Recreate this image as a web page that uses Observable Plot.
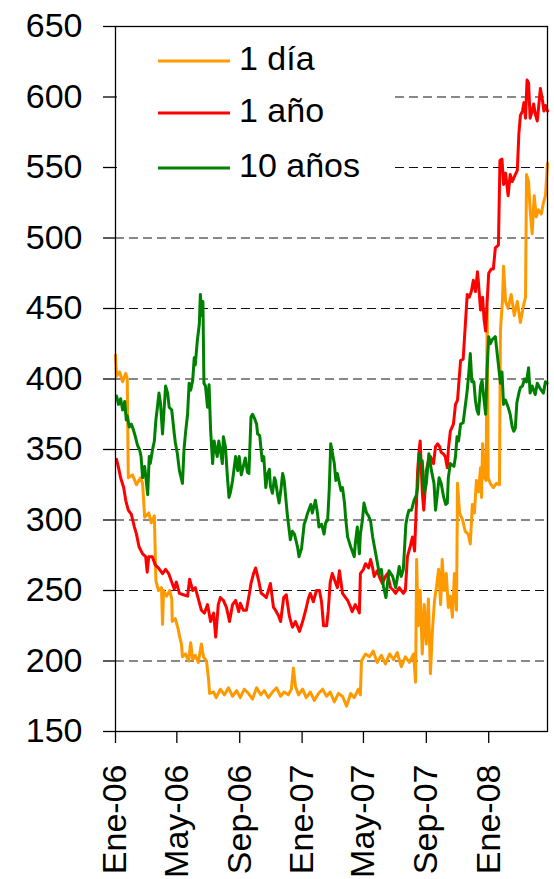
<!DOCTYPE html>
<html><head><meta charset="utf-8">
<script src="https://cdn.jsdelivr.net/npm/d3@7"></script>
<script src="https://cdn.jsdelivr.net/npm/@observablehq/plot@0.6"></script>
<style>
body{margin:0;background:#fff;}
#wrap{position:relative;width:554px;height:879px;font-family:"Liberation Sans",Arial,sans-serif;}
#legend{position:absolute;left:0;top:0;}
</style></head><body><div id="wrap"></div>
<script>
// Series names & colours
const seriesNames = ["1 día", "1 año", "10 años"];
const seriesColors = ["#FF9900", "#FF0000", "#008000"];

// Days since 2006-01-01 and values
const diaDays = [0,2,8,14,20,23,25,33,41,49,53,57,65,70,76,79,84,90,92,94,100,106,110,111,117,123,125,129,131,137,143,147,151,156,162,168,172,178,182,184,192,197,205,213,221,229,237,244,252,260,268,276,284,291,299,307,315,323,330,338,344,348,352,358,366,373,381,389,397,405,413,420,428,436,444,452,460,467,475,479,481,489,497,504,512,520,528,536,544,551,559,567,575,583,587,589,592,596,600,604,608,612,616,620,624,628,632,636,639,643,647,651,655,659,663,667,669,673,679,684,690,694,698,702,706,710,714,716,718,722,725,727,729,733,739,745,751,753,757,759,763,768,774,780,786,792,798,802,804,808,811,815,819,823,827,833,837,841,845];
const diaValues = [417,402,405,398,404,400,330,332,325,330,326,302,305,298,303,257,250,252,226,250,246,250,244,228,230,222,218,212,203,205,200,213,201,204,199,212,203,200,187,177,178,174,180,176,181,175,179,174,180,177,173,181,176,179,174,178,181,175,178,176,180,195,182,176,180,174,178,172,177,180,175,178,171,177,175,168,177,174,180,176,200,205,203,207,199,204,198,205,201,206,196,203,199,205,185,272,225,250,205,240,212,244,191,222,243,253,265,240,272,250,262,238,246,231,262,236,326,305,300,292,290,283,311,305,328,320,337,316,354,330,328,450,330,326,323,326,325,435,456,480,455,450,460,445,455,440,452,458,545,540,520,503,530,515,520,517,525,530,553];

const anoDays = [2,6,10,16,20,25,31,37,41,46,53,59,62,65,72,78,84,92,98,104,111,115,119,125,133,141,145,151,156,162,168,174,180,186,192,196,201,205,211,217,223,229,235,241,244,250,256,262,265,270,274,280,285,289,295,303,309,313,319,323,329,334,340,346,352,360,366,372,377,381,387,393,399,403,407,413,416,420,424,428,434,438,444,450,454,460,463,469,475,477,479,485,489,495,499,503,506,512,518,522,528,532,538,544,548,555,563,567,571,577,581,585,589,591,594,596,600,603,608,612,616,622,626,630,634,637,641,645,649,651,655,661,665,669,672,675,680,684,688,692,696,700,704,708,710,714,718,721,724,727,730,735,739,743,749,752,756,759,763,768,772,776,782,786,789,792,796,799,802,805,808,811,815,818,821,825,829,831,835,838,841,845];
const anoValues = [343,337,330,323,314,307,304,295,290,281,276,274,263,274,274,268,266,262,265,262,255,251,256,248,247,246,258,250,252,244,236,234,240,228,234,217,240,245,243,238,228,240,243,235,241,236,236,248,255,262,266,257,248,247,245,255,238,236,232,228,245,247,232,224,228,221,228,236,244,248,242,250,250,242,225,225,235,256,262,258,252,264,248,245,243,238,235,240,236,234,262,265,269,266,272,266,260,264,258,255,260,262,252,250,248,252,248,250,274,282,288,278,315,335,350,356,320,307,335,342,345,340,352,354,352,348,347,345,337,350,363,368,382,385,399,413,414,437,460,458,462,470,462,476,468,449,458,442,434,455,475,478,478,493,495,555,556,538,546,530,545,540,545,548,574,587,590,596,585,612,610,585,590,595,588,583,598,606,598,590,594,590];

const diezDays = [2,6,10,14,18,21,23,27,31,35,39,43,47,50,53,57,61,63,66,68,72,76,79,82,85,88,92,95,98,102,105,110,115,117,121,125,127,131,134,137,141,144,147,151,154,156,160,164,166,169,171,173,176,180,183,186,190,193,196,199,202,205,209,211,215,219,222,225,229,235,239,242,246,250,254,258,261,265,268,272,276,278,282,287,290,294,297,301,303,307,311,313,317,320,323,327,330,336,342,346,350,356,359,364,369,372,375,382,385,391,395,398,403,408,411,415,418,421,424,428,431,434,441,444,448,450,454,460,463,467,469,473,477,479,483,486,491,495,499,503,509,512,516,520,524,529,532,535,542,548,555,559,563,568,571,574,579,584,589,591,594,596,600,604,608,613,618,623,626,630,633,637,642,646,649,651,655,662,665,668,671,675,680,688,691,694,697,701,704,707,710,714,717,720,724,727,730,733,737,743,746,749,753,756,759,763,768,772,776,779,782,785,789,792,796,800,804,808,811,815,821,825,831,837,841,844];
const diezValues = [388,382,386,378,384,371,374,366,368,364,359,353,350,345,330,338,325,318,345,340,349,356,371,380,390,383,361,378,395,390,380,378,361,355,347,335,332,326,350,362,375,397,392,399,415,410,427,439,460,445,455,397,395,380,396,364,340,356,350,345,356,350,340,359,352,330,316,320,328,345,335,345,332,338,344,334,333,373,375,372,368,361,360,342,345,323,332,336,324,319,330,328,318,312,320,333,328,304,286,292,290,281,274,280,297,300,304,311,305,314,305,295,297,290,298,300,321,354,348,340,328,333,321,323,312,302,288,281,278,274,283,295,276,290,300,312,305,303,299,288,276,270,262,265,253,245,255,264,260,252,267,260,265,297,303,307,307,314,318,323,347,342,342,319,326,347,335,326,307,320,330,326,316,311,312,330,340,338,345,359,356,368,369,392,404,418,398,398,385,378,375,395,399,388,375,408,430,425,428,430,420,410,397,405,382,385,380,375,366,363,365,383,390,394,395,400,398,408,390,395,389,397,393,390,398,397];

// Axis ticks
const yTicks = [150,200,250,300,350,400,450,500,550,600,650];
const gridValues = [200,250,300,350,400,450,500,550,600];
const xTickDates = ["2006-01-01","2006-05-01","2006-09-01","2007-01-01","2007-05-01","2007-09-01","2008-01-01"];
const xTickLabels = ["Ene-06","May-06","Sep-06","Ene-07","May-07","Sep-07","Ene-08"];
const lastDay = 845;

const start = Date.UTC(2006,0,1);
const toDate = d => new Date(start + d*864e5);
const series = [
  {name: seriesNames[0], days: diaDays, values: diaValues},
  {name: seriesNames[1], days: anoDays, values: anoValues},
  {name: seriesNames[2], days: diezDays, values: diezValues}
];
const rows = [];
series.forEach(s => s.days.forEach((d,i) => rows.push({date: toDate(d), value: s.values[i], serie: s.name})));

const tickDates = xTickDates.map(s => new Date(s + "T00:00:00Z"));
const labelMap = new Map(tickDates.map((d,i) => [+d, xTickLabels[i]]));

const chart = Plot.plot({
  width: 554, height: 879,
  marginLeft: 115, marginRight: 7, marginTop: 26, marginBottom: 148,
  style: {fontFamily: '"Liberation Sans", Arial, sans-serif', background: "#fff", color: "#000", overflow: "visible"},
  x: {type: "utc", domain: [toDate(0), toDate(lastDay)]},
  y: {domain: [150, 650]},
  color: {domain: seriesNames, range: seriesColors},
  marks: [
    Plot.ruleY(gridValues, {stroke: "#111", strokeWidth: 1.1, strokeDasharray: "9,5"}),
    Plot.lineY(rows, {x: "date", y: "value", z: "serie", stroke: "serie", strokeWidth: 3, strokeLinejoin: "round"}),
    Plot.frame({stroke: "#000", strokeWidth: 1.3}),
    Plot.axisY({ticks: yTicks, tickSize: 12, tickPadding: 21, fontSize: 34, label: null, tickFormat: d => String(d), strokeWidth: 1.3}),
    Plot.axisX({ticks: tickDates, tickSize: 12, tickPadding: 21, tickRotate: -90, fontSize: 34, label: null, tickFormat: d => labelMap.get(+d), strokeWidth: 1.3})
  ]
});
const wrap = document.getElementById("wrap");
wrap.appendChild(chart);

// Legend overlay (white box hiding the grid behind it)
const legendY = [61, 113, 168];
let lg = `<svg id="legend" width="554" height="879" xmlns="http://www.w3.org/2000/svg">
<rect x="117" y="28" width="274" height="160" fill="#fff"/>`;
seriesNames.forEach((n,i) => {
  lg += `<line x1="158" x2="230" y1="${legendY[i]}" y2="${legendY[i]}" stroke="${seriesColors[i]}" stroke-width="3"/>`;
  lg += `<text x="239" y="${legendY[i]+9}" font-size="34" font-family="Liberation Sans, Arial, sans-serif" fill="#000">${n}</text>`;
});
lg += `</svg>`;
wrap.insertAdjacentHTML("beforeend", lg);
</script></body></html>
